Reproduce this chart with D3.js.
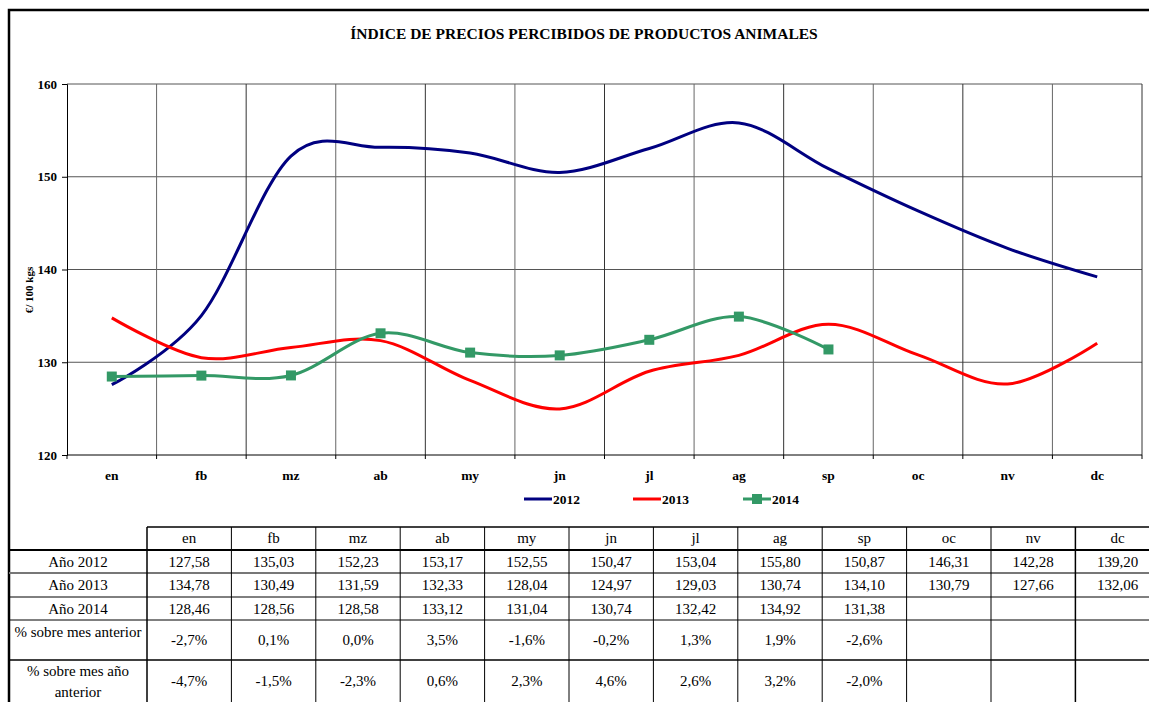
<!DOCTYPE html>
<html>
<head>
<meta charset="utf-8">
<script src="https://cdn.jsdelivr.net/npm/d3@7/dist/d3.min.js"></script>
<style>
  html, body { margin: 0; padding: 0; background: #fff; }
  svg text { font-family: "Liberation Serif", "Times New Roman", serif; }
</style>
</head>
<body>
<svg id="chart" width="1149" height="702"></svg>
<script>
// Monthly index of prices received for animal products (€/100 kg)
const months = ["en", "fb", "mz", "ab", "my", "jn", "jl", "ag", "sp", "oc", "nv", "dc"];
const years = ["2012", "2013", "2014"];
const values2012 = [127.58, 135.03, 152.23, 153.17, 152.55, 150.47, 153.04, 155.80, 150.87, 146.31, 142.28, 139.20];
const values2013 = [134.78, 130.49, 131.59, 132.33, 128.04, 124.97, 129.03, 130.74, 134.10, 130.79, 127.66, 132.06];
const values2014 = [128.46, 128.56, 128.58, 133.12, 131.04, 130.74, 132.42, 134.92, 131.38, null, null, null];
const pctPrevMonth = [-2.7, 0.1, 0.0, 3.5, -1.6, -0.2, 1.3, 1.9, -2.6, null, null, null];
const pctPrevYear = [-4.7, -1.5, -2.3, 0.6, 2.3, 4.6, 2.6, 3.2, -2.0, null, null, null];
const yTicks = [120, 130, 140, 150, 160];
const seriesColors = ["#000080", "#ff0000", "#339966"];

const SERIF = "Liberation Serif, Times New Roman, serif";
const locale = d3.formatLocale({ decimal: ",", thousands: ".", grouping: [3], currency: ["", "€"], minus: "-" });
const fmtVal = locale.format(".2f");
const fmtPct = v => locale.format(".1f")(v) + "%";

const svg = d3.select("#chart").attr("font-family", SERIF);

// Outer frame
svg.append("path")
  .attr("d", "M9,702 V10 H1149")
  .attr("fill", "none").attr("stroke", "#000").attr("stroke-width", 2.5);

// Title
svg.append("text")
  .attr("x", 584).attr("y", 39)
  .attr("text-anchor", "middle")
  .attr("font-family", SERIF)
  .attr("font-weight", "bold").attr("font-size", 15.5)
  .text("ÍNDICE DE PRECIOS PERCIBIDOS DE PRODUCTOS ANIMALES");

// Scales
const plot = { left: 67, right: 1142, top: 84, bottom: 455 };
const x = d3.scaleBand().domain(months).range([plot.left, plot.right]).paddingInner(0).paddingOuter(0);
const y = d3.scaleLinear().domain([120, 160]).range([plot.bottom, plot.top]);
const cx = m => x(m) + x.bandwidth() / 2;

// Gridlines
const grid = svg.append("g");
grid.selectAll("line.h").data(yTicks.slice(1)).join("line")
  .attr("x1", plot.left).attr("x2", plot.right)
  .attr("y1", d => y(d)).attr("y2", d => y(d))
  .attr("stroke", "#555").attr("stroke-width", 1);
grid.selectAll("line.v").data(months.slice(1).concat(["__end"])).join("line")
  .attr("x1", (d, i) => i < 11 ? x(d) : plot.right)
  .attr("x2", (d, i) => i < 11 ? x(d) : plot.right)
  .attr("y1", plot.top).attr("y2", plot.bottom)
  .attr("stroke", (d, i) => i % 2 ? "#333" : "#666").attr("stroke-width", 1);

// Y axis
const yAxis = svg.append("g").attr("transform", `translate(${plot.left},0)`)
  .call(d3.axisLeft(y).tickValues(yTicks).tickSize(5).tickPadding(5).tickFormat(d3.format("d")));
yAxis.attr("font-family", SERIF);
yAxis.select(".domain").attr("stroke", "#000");
yAxis.selectAll("text").attr("font-family", SERIF).attr("font-weight", "bold").attr("font-size", 13).attr("fill", "#000");
yAxis.selectAll(".tick line").attr("stroke", "#000");

svg.append("text")
  .attr("transform", "translate(33,290) rotate(-90)")
  .attr("text-anchor", "middle")
  .attr("font-family", SERIF)
  .attr("font-weight", "bold").attr("font-size", 11)
  .text("€/ 100 kgs");

// X axis: ticks at category boundaries, labels at centres
const xAxisG = svg.append("g");
xAxisG.append("line")
  .attr("x1", plot.left).attr("x2", plot.right)
  .attr("y1", plot.bottom).attr("y2", plot.bottom)
  .attr("stroke", "#000").attr("stroke-width", 1);
xAxisG.selectAll("line.tk").data(months.concat(["__end"])).join("line")
  .attr("x1", (d, i) => i < 12 ? x(d) : plot.right)
  .attr("x2", (d, i) => i < 12 ? x(d) : plot.right)
  .attr("y1", plot.bottom).attr("y2", plot.bottom + 4)
  .attr("stroke", "#000");
xAxisG.selectAll("text").data(months).join("text")
  .attr("x", d => cx(d)).attr("y", 480)
  .attr("text-anchor", "middle")
  .attr("font-family", SERIF)
  .attr("font-weight", "bold").attr("font-size", 13.5)
  .text(d => d);

// Series lines
const allSeries = [values2012, values2013, values2014];
const line = d3.line()
  .defined(d => d.v != null)
  .x(d => cx(d.m)).y(d => y(d.v))
  .curve(d3.curveCatmullRom.alpha(0));
allSeries.forEach((vals, si) => {
  const pts = months.map((m, i) => ({ m, v: vals[i] }));
  svg.append("path")
    .datum(pts)
    .attr("d", line)
    .attr("fill", "none")
    .attr("stroke", seriesColors[si])
    .attr("stroke-width", 3)
    .attr("stroke-linejoin", "round");
});
// Square markers on 2014
svg.selectAll("rect.mk")
  .data(months.map((m, i) => ({ m, v: values2014[i] })).filter(d => d.v != null))
  .join("rect")
  .attr("x", d => cx(d.m) - 5).attr("y", d => y(d.v) - 5)
  .attr("width", 10).attr("height", 10)
  .attr("fill", seriesColors[2]);

// Legend
const legendX = [524, 633, 743];
years.forEach((yr, i) => {
  const g = svg.append("g").attr("transform", `translate(${legendX[i]},499)`);
  g.append("line").attr("x1", 0).attr("x2", 28).attr("y1", 0).attr("y2", 0)
    .attr("stroke", seriesColors[i]).attr("stroke-width", 3);
  if (i === 2) g.append("rect").attr("x", 9).attr("y", -5).attr("width", 10).attr("height", 10).attr("fill", seriesColors[i]);
  g.append("text").attr("x", 29).attr("y", 4.5)
    .attr("font-family", SERIF)
    .attr("font-weight", "bold").attr("font-size", 13.5).text(yr);
});

// Data table
const tbl = { labelLeft: 9, left: 147, colW: 84.4 };
const rowEdges = [527, 550, 573, 597, 620, 660, 702];
const colEdge = i => tbl.left + i * tbl.colW;
const tg = svg.append("g").attr("font-size", 15).attr("font-family", SERIF).attr("fill", "#000");

// header cells
tg.selectAll("text.hd").data(months).join("text")
  .attr("x", (d, i) => colEdge(i) + tbl.colW / 2).attr("y", 543)
  .attr("text-anchor", "middle").text(d => d);

const rows = [
  { label: ["Año 2012"], vals: values2012, fmt: fmtVal },
  { label: ["Año 2013"], vals: values2013, fmt: fmtVal },
  { label: ["Año 2014"], vals: values2014, fmt: fmtVal },
  { label: ["% sobre mes anterior"], vals: pctPrevMonth, fmt: fmtPct },
  { label: ["% sobre mes año", "anterior"], vals: pctPrevYear, fmt: fmtPct }
];
rows.forEach((r, ri) => {
  const top = rowEdges[ri + 1], bot = rowEdges[ri + 2];
  const mid = (top + bot) / 2 + 5;
  if (r.label.length === 1) {
    const ly = ri === 3 ? top + 17 : mid;
    tg.append("text").attr("x", 78).attr("y", ly).attr("text-anchor", "middle").text(r.label[0]);
  } else {
    tg.append("text").attr("x", 78).attr("y", top + 16).attr("text-anchor", "middle").text(r.label[0]);
    tg.append("text").attr("x", 78).attr("y", top + 37).attr("text-anchor", "middle").text(r.label[1]);
  }
  r.vals.forEach((v, i) => {
    if (v == null) return;
    tg.append("text").attr("x", colEdge(i) + tbl.colW / 2).attr("y", mid)
      .attr("text-anchor", "middle").text(r.fmt(v));
  });
});

// table borders
const lines = svg.append("g").attr("stroke", "#000");
lines.append("line").attr("x1", tbl.left).attr("x2", 1149).attr("y1", 527).attr("y2", 527).attr("stroke-width", 1.5);
lines.append("line").attr("x1", tbl.labelLeft).attr("x2", 1149).attr("y1", 550).attr("y2", 550).attr("stroke-width", 2);
lines.append("line").attr("x1", tbl.labelLeft).attr("x2", 1149).attr("y1", 573).attr("y2", 573).attr("stroke", "#777").attr("stroke-width", 2);
lines.append("line").attr("x1", tbl.labelLeft).attr("x2", 1149).attr("y1", 597).attr("y2", 597).attr("stroke-width", 1);
lines.append("line").attr("x1", tbl.labelLeft).attr("x2", 1149).attr("y1", 620).attr("y2", 620).attr("stroke-width", 1);
lines.append("line").attr("x1", tbl.labelLeft).attr("x2", 1149).attr("y1", 660).attr("y2", 660).attr("stroke-width", 1.5);
d3.range(13).forEach(i => {
  const xx = colEdge(i);
  if (xx > 1149) return;
  lines.append("line").attr("x1", xx).attr("x2", xx).attr("y1", 527).attr("y2", 702)
    .attr("stroke-width", i === 0 || i === 11 ? 1.5 : 1);
});
</script>
</body>
</html>
